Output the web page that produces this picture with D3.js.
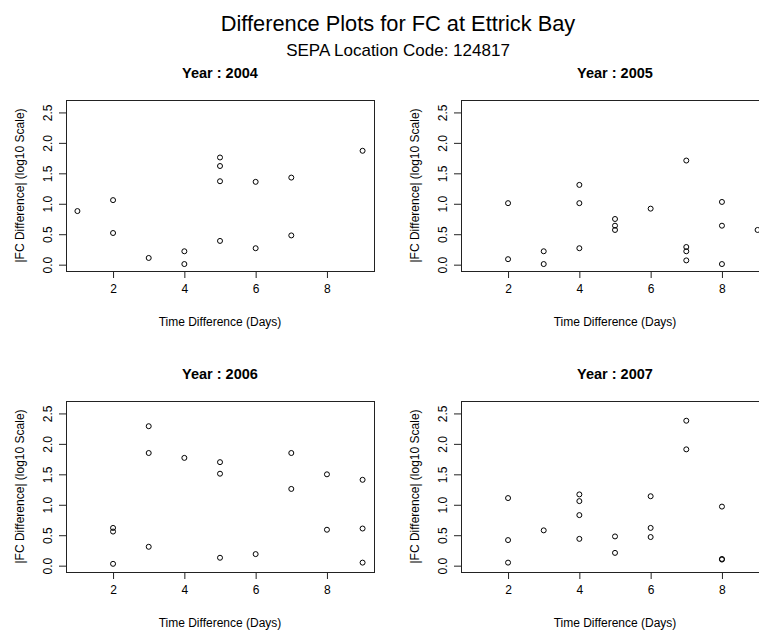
<!DOCTYPE html>
<html>
<head>
<meta charset="utf-8">
<script src="https://cdn.jsdelivr.net/npm/d3@7"></script>
<style>
  html, body { margin: 0; padding: 0; background: #fff; }
  svg { display: block; font-family: "Liberation Sans", Arial, sans-serif; }
</style>
</head>
<body>
<svg id="chart" width="759" height="633"></svg>
<script>
// Titles
const mainTitle = "Difference Plots for FC at Ettrick Bay";
const subTitle = "SEPA Location Code: 124817";
const xTitle = "Time Difference (Days)";
const yTitle = "|FC Difference| (log10 Scale)";

// Panels (one per year)
const years = [2004, 2005, 2006, 2007];

// Time difference (days) and |FC difference| (log10) for each year
const days2004 = [1, 2, 2, 3, 4, 4, 5, 5, 5, 5, 6, 6, 7, 7, 9];
const diff2004 = [0.88, 1.06, 0.52, 0.11, 0.22, 0.01, 1.76, 1.62, 1.37, 0.39, 1.36, 0.27, 1.43, 0.48, 1.87];

const days2005 = [2, 2, 3, 3, 4, 4, 4, 5, 5, 5, 6, 7, 7, 7, 7, 8, 8, 8, 9];
const diff2005 = [1.01, 0.09, 0.22, 0.01, 1.31, 1.01, 0.27, 0.75, 0.64, 0.57, 0.92, 1.71, 0.29, 0.22, 0.07, 1.03, 0.64, 0.01, 0.57];

const days2006 = [2, 2, 2, 3, 3, 3, 4, 5, 5, 5, 6, 7, 7, 8, 8, 9, 9, 9];
const diff2006 = [0.62, 0.56, 0.03, 2.29, 1.85, 0.31, 1.77, 1.70, 1.51, 0.13, 0.19, 1.85, 1.26, 1.50, 0.59, 1.41, 0.61, 0.05];

const days2007 = [2, 2, 2, 3, 4, 4, 4, 4, 5, 5, 6, 6, 6, 7, 7, 8, 8, 8];
const diff2007 = [1.11, 0.42, 0.05, 0.58, 1.17, 1.06, 0.83, 0.44, 0.48, 0.21, 1.14, 0.62, 0.47, 2.38, 1.91, 0.97, 0.11, 0.10];

const xTicks = [2, 4, 6, 8];
const yTicks = [0, 0.5, 1, 1.5, 2, 2.5];
const yTickLabels = ["0.0", "0.5", "1.0", "1.5", "2.0", "2.5"];

const series = [
  { year: years[0], days: days2004, diff: diff2004 },
  { year: years[1], days: days2005, diff: diff2005 },
  { year: years[2], days: days2006, diff: diff2006 },
  { year: years[3], days: days2007, diff: diff2007 }
];

// Axis limits: data range padded by 4% on each side
const xLim = [1, 9], yLim = [0, 2.6];
const pad = (l) => { const d = (l[1] - l[0]) * 0.04; return [l[0] - d, l[1] + d]; };
const xDom = pad(xLim), yDom = pad(yLim);

const svg = d3.select("#chart");

svg.append("text")
  .attr("x", 398).attr("y", 31)
  .attr("text-anchor", "middle")
  .attr("font-size", 21.8)
  .text(mainTitle);

svg.append("text")
  .attr("x", 398).attr("y", 56)
  .attr("text-anchor", "middle")
  .attr("font-size", 17)
  .text(subTitle);

// Panel box placement
const boxW = 308, boxH = 171;
const boxLeft = [66, 461], boxTop = [100, 401];

series.forEach((s, i) => {
  const left = boxLeft[i % 2], top = boxTop[Math.floor(i / 2)];
  const x = d3.scaleLinear().domain(xDom).range([left, left + boxW]);
  const y = d3.scaleLinear().domain(yDom).range([top + boxH, top]);
  const g = svg.append("g");

  // x axis
  const xa = g.append("g")
    .attr("transform", `translate(0,${top + boxH})`)
    .call(d3.axisBottom(x).tickValues(xTicks).tickSize(7).tickPadding(6).tickFormat(d3.format("d")));
  xa.select(".domain").remove();
  xa.selectAll("line").attr("stroke", "#222");
  xa.selectAll("text").attr("font-size", 12).attr("fill", "#000")
    .attr("font-family", "Liberation Sans, Arial, sans-serif");

  // y axis with labels parallel to the axis
  const ya = g.append("g")
    .attr("transform", `translate(${left},0)`)
    .call(d3.axisLeft(y).tickValues(yTicks).tickSize(7).tickFormat((d, k) => yTickLabels[k]));
  ya.select(".domain").remove();
  ya.selectAll("line").attr("stroke", "#222");
  ya.selectAll(".tick text")
    .attr("font-size", 12).attr("fill", "#000")
    .attr("font-family", "Liberation Sans, Arial, sans-serif")
    .attr("x", null).attr("dy", null)
    .attr("text-anchor", "middle")
    .attr("transform", "translate(-14,0) rotate(-90)");

  // box
  g.append("rect")
    .attr("x", left + 0.5).attr("y", top + 0.5)
    .attr("width", boxW).attr("height", boxH)
    .attr("fill", "none").attr("stroke", "#222").attr("stroke-width", 1);

  // panel title
  g.append("text")
    .attr("x", left + boxW / 2).attr("y", top - 22)
    .attr("text-anchor", "middle")
    .attr("font-size", 14.5).attr("font-weight", "bold")
    .text(`Year : ${s.year}`);

  // axis titles
  g.append("text")
    .attr("x", left + boxW / 2).attr("y", top + boxH + 55)
    .attr("text-anchor", "middle").attr("font-size", 12)
    .text(xTitle);
  g.append("text")
    .attr("transform", `translate(${left - 42},${top + boxH / 2}) rotate(-90)`)
    .attr("text-anchor", "middle").attr("font-size", 12)
    .text(yTitle);

  // points
  g.append("g").selectAll("circle")
    .data(s.days.map((d, k) => ({ d, v: s.diff[k] })))
    .join("circle")
    .attr("cx", p => x(p.d)).attr("cy", p => y(p.v))
    .attr("r", 2.5)
    .attr("fill", "none").attr("stroke", "#000").attr("stroke-width", 1);
});
</script>
</body>
</html>
